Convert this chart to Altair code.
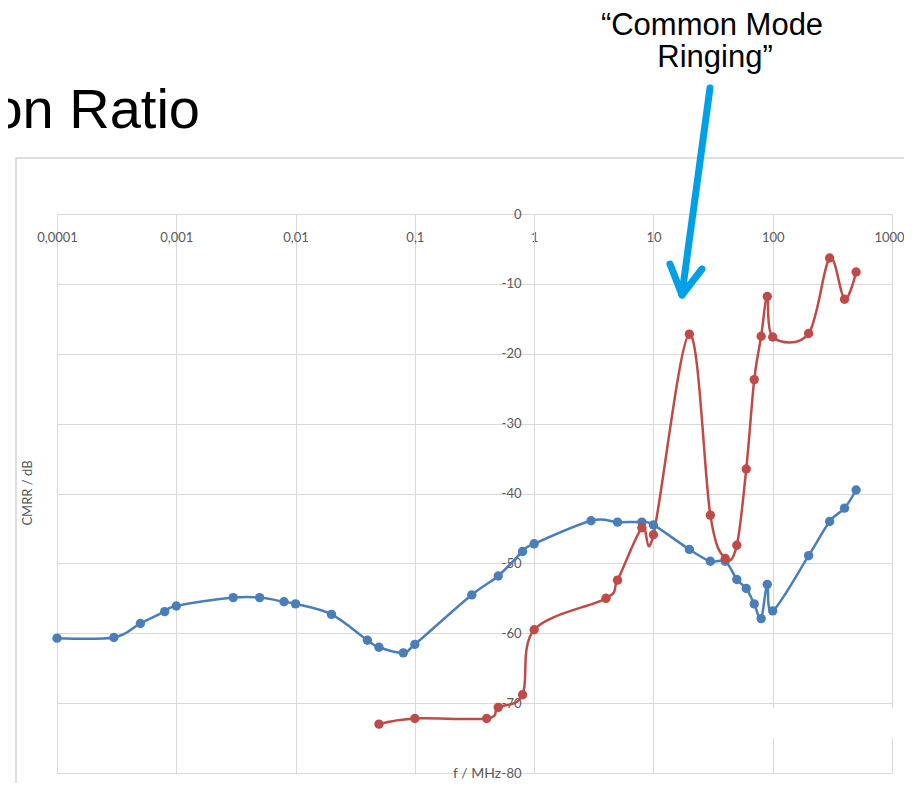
import altair as alt
import pandas as pd

# ---- data ----
freq_blue = [0.0001, 0.0003, 0.0005, 0.0008, 0.001, 0.003, 0.005, 0.008, 0.01,
             0.02, 0.04, 0.05, 0.08, 0.1, 0.3, 0.5, 0.8, 1, 3, 5, 8, 10,
             20, 30, 40, 50, 60, 70, 80, 90, 100, 200, 300, 400, 500]
cmrr_blue = [-60.7, -60.6, -58.6, -56.9, -56.1, -54.9, -54.9, -55.5, -55.8,
             -57.3, -61.0, -62.0, -62.8, -61.6, -54.5, -51.8, -48.3, -47.2, -43.9, -44.1, -44.1, -44.5,
             -48.0, -49.7, -49.7, -52.3, -53.6, -55.8, -57.9, -53.0, -56.8, -48.9, -44.0, -42.1, -39.5]

freq_red = [0.05, 0.1, 0.4, 0.5, 0.8, 1, 4, 5, 8, 10, 20, 30, 40, 50, 60, 70,
            80, 90, 100, 200, 300, 400, 500]
cmrr_red = [-73.0, -72.2, -72.2, -70.6, -68.8, -59.5, -55.0, -52.4, -44.9, -45.9, -17.2, -43.1,
            -49.3, -47.4, -36.5, -23.7, -17.5, -11.8, -17.6, -17.1, -6.3, -12.2, -8.3]

series_names = ["blue", "red"]
series_colors = ["#4a7ebb", "#be4b48"]

x_ticks = [0.0001, 0.001, 0.01, 0.1, 1, 10, 100, 1000]
y_ticks = [0, -10, -20, -30, -40, -50, -60, -70, -80]

title_text = "on Ratio"
note_lines = ["\u201cCommon Mode", "Ringing\u201d"]
x_title = "f / MHz"
y_title = "CMRR / dB"

df = pd.concat([
    pd.DataFrame({"f": freq_blue, "cmrr": cmrr_blue, "s": series_names[0], "o": 0}),
    pd.DataFrame({"f": freq_red, "cmrr": cmrr_red, "s": series_names[1], "o": 1}),
], ignore_index=True)

W, H = 835, 559
AX_X = 477  # pixel position of x = 1 inside the plot

grid_col = "#d9d9d9"
lab_col = "#595959"
font = "Lato"

x_enc = alt.X("f:Q", title=None,
              scale=alt.Scale(type="log", domain=[0.0001, 1000], nice=False),
              axis=alt.Axis(values=x_ticks, orient="bottom", offset=-H,
                            labelExpr="replace(format(datum.value, '~g'), '.', ',')",
                            labelOffset={"condition": {"test": "datum.value == 1000", "value": -3},
                                         "value": 0},
                            ticks=False, labelPadding=17, domain=True, domainColor=grid_col,
                            grid=True, gridColor=grid_col, labelColor=lab_col,
                            labelFont=font, labelFontSize=13, labelFlush=False,
                            labelOverlap=False, labelBound=False))
y_enc = alt.Y("cmrr:Q", title=None,
              scale=alt.Scale(domain=[-80, 0], nice=False, zero=False),
              axis=alt.Axis(values=y_ticks, orient="left", offset=-AX_X,
                            labelExpr="'' + datum.value",
                            ticks=False, labelPadding=13, domain=True, domainColor=grid_col,
                            grid=True, gridColor=grid_col, labelColor=lab_col,
                            labelFont=font, labelFontSize=13, labelFlush=False,
                            labelOverlap=False, labelBound=False))
color_enc = alt.Color("s:N", scale=alt.Scale(domain=series_names, range=series_colors), legend=None)

base = alt.Chart(df)
lines = base.mark_line(interpolate="cardinal", strokeWidth=2.5).encode(
    x=x_enc, y=y_enc, color=color_enc, order="o:Q")
pts = base.mark_circle(size=88, opacity=1).encode(
    x=alt.X("f:Q"), y=alt.Y("cmrr:Q"), color=color_enc)

one = alt.Chart(pd.DataFrame({"k": [0]}))

frame = one.mark_rect(fillOpacity=0, stroke="#d4d4d4", strokeWidth=1.5).encode(
    x=alt.value(-41), x2=alt.value(1200), y=alt.value(-56), y2=alt.value(1200))

patch = one.mark_rect(fill="white", color="white").encode(
    x=alt.value(711), x2=alt.value(845), y=alt.value(494), y2=alt.value(524))

arrow_col = "#00a0e6"
shaft = one.mark_rule(color=arrow_col, strokeWidth=7, strokeCap="round").encode(
    x=alt.value(653), y=alt.value(-126), x2=alt.value(625), y2=alt.value(80))
arm_l = one.mark_rule(color=arrow_col, strokeWidth=7, strokeCap="round").encode(
    x=alt.value(613), y=alt.value(50), x2=alt.value(625), y2=alt.value(81))
arm_r = one.mark_rule(color=arrow_col, strokeWidth=7, strokeCap="round").encode(
    x=alt.value(645), y=alt.value(55), x2=alt.value(625), y2=alt.value(81))

title = one.mark_text(align="right", baseline="alphabetic", font="Liberation Sans",
                      fontSize=56, color="black").encode(
    x=alt.value(143), y=alt.value(-86), text=alt.value(title_text))
note1 = one.mark_text(align="center", baseline="alphabetic", font="Liberation Sans",
                      fontSize=31, color="black").encode(
    x=alt.value(655), y=alt.value(-179), text=alt.value(note_lines[0]))
note2 = one.mark_text(align="center", baseline="alphabetic", font="Liberation Sans",
                      fontSize=31, color="black").encode(
    x=alt.value(658), y=alt.value(-147), text=alt.value(note_lines[1]))

ytitle = one.mark_text(align="center", baseline="middle", font=font, fontSize=13,
                       color=lab_col, angle=270).encode(
    x=alt.value(-29), y=alt.value(279), text=alt.value(y_title))
xtitle = one.mark_text(align="right", baseline="middle", font=font, fontSize=14,
                       color=lab_col).encode(
    x=alt.value(444), y=alt.value(560), text=alt.value(x_title))

chart = alt.layer(frame, lines, pts, patch, shaft, arm_l, arm_r, title, note1, note2,
                  ytitle, xtitle).properties(
    width=W, height=H,
    autosize=alt.AutoSizeParams(type="none"),
    padding={"left": 49, "top": 206, "right": 12, "bottom": 10},
).configure_view(strokeWidth=0)

chart.save("out.html", embed_options={"renderer": "svg", "actions": False})
